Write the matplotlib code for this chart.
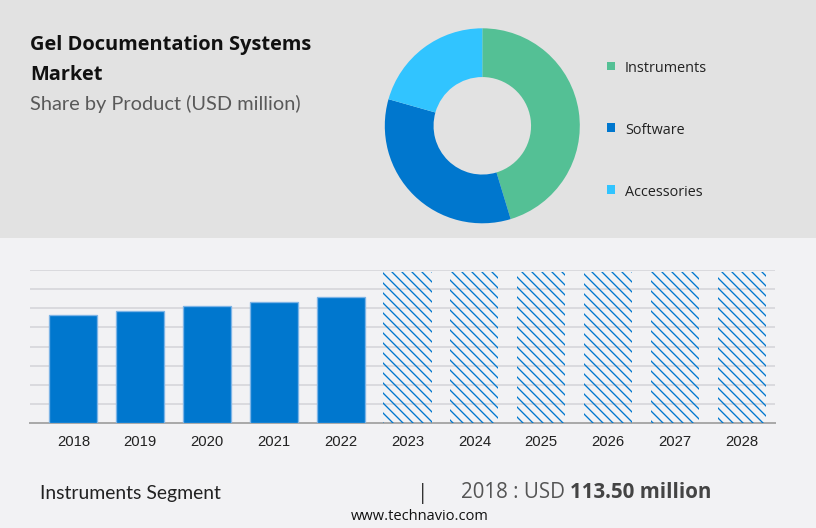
import matplotlib
matplotlib.use("Agg")
import matplotlib.pyplot as plt
from matplotlib.patches import Rectangle

# ── data ──────────────────────────────────────────────────────────────────────
years = ["2018", "2019", "2020", "2021", "2022", "2023",
         "2024", "2025", "2026", "2027", "2028"]
actual_vals = [113.5, 116.9, 122.1, 126.6, 131.5]
forecast_vals = [158, 158, 158, 158, 158, 158]

segments = ["Instruments", "Software", "Accessories"]
shares = [45.3, 34.1, 20.6]
seg_colors = ["#54c095", "#0077ce", "#31c4ff"]

BLUE = "#0077ce"
TOP_BG = "#e2e2e2"
BOT_BG = "#f2f2f4"

plt.rcParams["hatch.linewidth"] = 0.8

fig = plt.figure(figsize=(6.8, 4.4), dpi=120)
fig.patch.set_facecolor(BOT_BG)

# top grey panel (behind everything)
fig.patches.append(Rectangle((0, 1 - 238 / 528), 1, 238 / 528,
                             transform=fig.transFigure, facecolor=TOP_BG,
                             edgecolor="none", zorder=-5))

# ── titles ────────────────────────────────────────────────────────────────────
fig.text(30 / 816, 1 - 50 / 528, "Gel Documentation Systems", fontsize=12.0,
         fontweight="bold", family="Open Sans", color="#111111", va="baseline")
fig.text(30 / 816, 1 - 80 / 528, "Market", fontsize=12.0, fontweight="bold",
         family="Open Sans", color="#111111", va="baseline")
fig.text(30 / 816, 1 - 110 / 528, "Share by Product (USD million)",
         fontsize=12.0, family="Lato", color="#595959", va="baseline")

# ── donut ─────────────────────────────────────────────────────────────────────
cx, cy, R = 482.3, 125.8, 97.5
ax_pie = fig.add_axes([(cx - R) / 816, 1 - (cy + R) / 528, 2 * R / 816, 2 * R / 528])
ax_pie.pie(shares, colors=seg_colors, startangle=90, counterclock=False,
           radius=1, wedgeprops=dict(width=0.5, edgecolor="none"))
ax_pie.set_xlim(-1, 1)
ax_pie.set_ylim(-1, 1)
ax_pie.set_aspect("auto")
ax_pie.axis("off")

legend_y = [65.7, 127.3, 189.3]
for name, col, yc in zip(segments, seg_colors, legend_y):
    fig.patches.append(Rectangle((606.5 / 816, 1 - (yc + 4.2) / 528), 8.4 / 816, 8.4 / 528,
                                 transform=fig.transFigure, facecolor=col,
                                 edgecolor="none"))
    fig.text(625 / 816, 1 - (yc + 3) / 528, name, fontsize=8.6, family="Open Sans",
             color="#222222", va="center")

# ── bar chart ─────────────────────────────────────────────────────────────────
ax = fig.add_axes([30 / 816, 1 - 423.3 / 528, 745 / 816, 153.3 / 528])
ax.set_facecolor(BOT_BG)
n_act = len(actual_vals)
ax.bar(range(n_act), actual_vals, width=0.72, color=BLUE,
       edgecolor="#7db4e6", linewidth=0.8, zorder=3)
ax.bar(range(n_act, len(years)), forecast_vals, width=0.72, color="none",
       edgecolor=BLUE, linewidth=0, hatch="\\\\\\\\", zorder=3)

ax.set_xlim(-0.65, 10.5)
ax.set_ylim(0, 160)
ax.set_yticks(range(0, 161, 20))
ax.yaxis.grid(True, color="#d6d6da", linewidth=1.0, zorder=0)
ax.set_yticklabels([])
ax.tick_params(axis="y", length=0)
ax.set_xticks(range(len(years)))
ax.set_xticklabels(years, fontsize=8.9, family="Liberation Sans", color="#222222")
ax.tick_params(axis="x", length=0, pad=7)
for s in ["top", "right", "left"]:
    ax.spines[s].set_visible(False)
ax.spines["bottom"].set_color("#aaaaaa")
ax.spines["bottom"].set_linewidth(1.2)

# ── footer ────────────────────────────────────────────────────────────────────
fig.text(40 / 816, 1 - 493 / 528, "Instruments Segment", fontsize=11.6,
         family="Lato", color="#222222", va="center")
fig.text(423 / 816, 1 - 494 / 528, "|", fontsize=12.5, family="Open Sans",
         color="#333333", va="center", ha="center")
t = fig.text(461 / 816, 1 - 493 / 528, "2018 : USD ", fontsize=12.3,
             family="Open Sans", color="#555555", va="center")
fig.canvas.draw()
bb = t.get_window_extent()
fig.text(bb.x1 / fig.bbox.width, 1 - 493 / 528, "113.50 million", fontsize=12.3,
         family="Open Sans", fontweight="bold", color="#444444", va="center")
fig.text(420 / 816, 1 - 516 / 528, "www.technavio.com", fontsize=8.8,
         family="Open Sans", color="#111111", va="center", ha="center")

fig.savefig("out.png", dpi=120, facecolor=fig.get_facecolor())
